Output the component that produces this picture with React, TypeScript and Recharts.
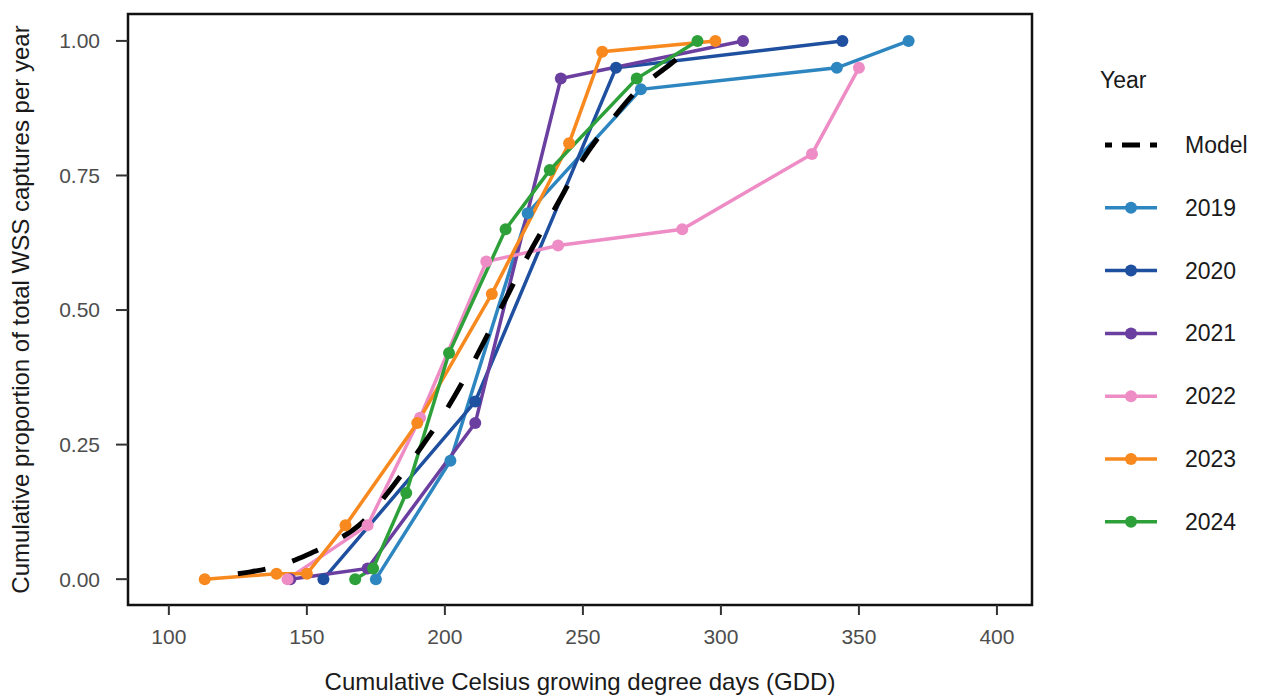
import React from 'react'
import {
  Label,
  Line,
  LineChart,
  ReferenceArea,
  XAxis,
  YAxis,
} from 'recharts'

// values
const modelGdd = [125, 130, 140, 150, 160, 170, 180, 190, 200, 210, 220, 230, 240, 250, 260, 270, 280, 290, 293]
const modelProp = [0.01, 0.014, 0.025, 0.045, 0.07, 0.105, 0.165, 0.235, 0.31, 0.4, 0.5, 0.6, 0.69, 0.78, 0.85, 0.91, 0.95, 0.99, 1.0]

const gdd2019 = [175, 202, 230, 271, 342, 368]
const prop2019 = [0, 0.22, 0.68, 0.91, 0.95, 1.0]
const gdd2020 = [156, 211, 262, 344]
const prop2020 = [0, 0.33, 0.95, 1.0]
const gdd2021 = [144, 172, 211, 242, 308]
const prop2021 = [0, 0.02, 0.29, 0.93, 1.0]
const gdd2022 = [143, 172, 191, 215, 241, 286, 333, 350]
const prop2022 = [0, 0.1, 0.3, 0.59, 0.62, 0.65, 0.79, 0.95]
const gdd2023 = [113, 139, 150, 164, 190, 217, 245, 257, 298]
const prop2023 = [0, 0.01, 0.01, 0.1, 0.29, 0.53, 0.81, 0.98, 1.0]
const gdd2024 = [167.5, 174, 186, 201.5, 222, 238, 269.5, 291.5]
const prop2024 = [0, 0.02, 0.16, 0.42, 0.65, 0.76, 0.93, 1.0]

const years = ['2019', '2020', '2021', '2022', '2023', '2024']
const yearColors = ['#2e86c1', '#1f4f9f', '#6b3fa0', '#ee8cc5', '#f7891f', '#2ea03a']
const yearGdd = [gdd2019, gdd2020, gdd2021, gdd2022, gdd2023, gdd2024]
const yearProp = [prop2019, prop2020, prop2021, prop2022, prop2023, prop2024]

const xTicks = [100, 150, 200, 250, 300, 350, 400]
const yTicks = [0, 0.25, 0.5, 0.75, 1]

const X_DOMAIN: [number, number] = [85.2, 412.7]
const Y_DOMAIN: [number, number] = [-0.048, 1.05]

const toPoints = (xs: number[], ys: number[]) => xs.map((x, i) => ({ x, y: ys[i] }))

const modelData = toPoints(modelGdd, modelProp)
const yearData = years.map((_, i) => toPoints(yearGdd[i], yearProp[i]))

const FONT = '"Liberation Sans", Arial, Helvetica, sans-serif'
const tickStyle = { fontSize: 21, fill: '#4d4d4d', fontFamily: FONT }
const titleStyle = { fontSize: 24, fill: '#1a1a1a', fontFamily: FONT }

// legend sits to the right of the panel, outside the chart layout
const YearLegend = () => {
  const rowY = (i: number) => 145 + i * 62.8
  return (
    <svg
      width={175}
      height={600}
      style={{ position: 'absolute', left: 1090, top: 0, fontFamily: FONT }}
    >
      <text x={10} y={80} fontSize={23} fill="#1a1a1a" dominantBaseline="central">Year</text>
      <line x1={15} x2={67} y1={rowY(0)} y2={rowY(0)} stroke="#000" strokeWidth={5} strokeDasharray="7 10 18 10 7" />
      <text x={95} y={rowY(0)} fontSize={23} fill="#1a1a1a" dominantBaseline="central">Model</text>
      {years.map((yr, i) => (
        <g key={yr}>
          <line x1={15} x2={67} y1={rowY(i + 1)} y2={rowY(i + 1)} stroke={yearColors[i]} strokeWidth={3.5} />
          <circle cx={41} cy={rowY(i + 1)} r={6} fill={yearColors[i]} />
          <text x={95} y={rowY(i + 1)} fontSize={23} fill="#1a1a1a" dominantBaseline="central">{yr}</text>
        </g>
      ))}
    </svg>
  )
}

export default function App() {
  return (
    <div style={{ position: 'absolute', left: 0, top: 0, width: 1265, height: 698, background: '#fff' }}>
      <LineChart width={1265} height={698} margin={{ top: 14, right: 233, bottom: 0, left: 0 }}>
        <XAxis
          type="number"
          dataKey="x"
          domain={X_DOMAIN}
          ticks={xTicks}
          allowDataOverflow
          height={93}
          tick={tickStyle}
          tickSize={10}
          tickMargin={14}
          axisLine={false}
          tickLine={{ stroke: '#333', strokeWidth: 2 }}
        >
          <Label
            value="Cumulative Celsius growing degree days (GDD)"
            position="insideBottom"
            offset={8}
            style={titleStyle}
          />
        </XAxis>
        <YAxis
          type="number"
          dataKey="y"
          domain={Y_DOMAIN}
          ticks={yTicks}
          allowDataOverflow
          width={128}
          tick={tickStyle}
          tickFormatter={(v: number) => v.toFixed(2)}
          tickSize={12}
          tickMargin={16}
          axisLine={false}
          tickLine={{ stroke: '#333', strokeWidth: 2 }}
        >
          <Label
            value="Cumulative proportion of total WSS captures per year"
            angle={-90}
            position="insideLeft"
            offset={20}
            style={{ ...titleStyle, textAnchor: 'middle' }}
          />
        </YAxis>
        <ReferenceArea
          x1={X_DOMAIN[0]}
          x2={X_DOMAIN[1]}
          y1={Y_DOMAIN[0]}
          y2={Y_DOMAIN[1]}
          fill="none"
          stroke="#111"
          strokeWidth={2.5}
        />
        {years.map((yr, i) => (
          <Line
            key={yr}
            data={yearData[i]}
            dataKey="y"
            name={yr}
            type="linear"
            stroke={yearColors[i]}
            strokeWidth={3.5}
            dot={{ r: 6, fill: yearColors[i], stroke: yearColors[i], strokeWidth: 0 }}
            activeDot={false}
            isAnimationActive={false}
          />
        ))}
        <Line
          data={modelData}
          dataKey="y"
          name="Model"
          type="monotone"
          stroke="#000"
          strokeWidth={5}
          strokeDasharray="28 28"
          dot={false}
          activeDot={false}
          isAnimationActive={false}
        />
      </LineChart>
      <YearLegend />
    </div>
  )
}
